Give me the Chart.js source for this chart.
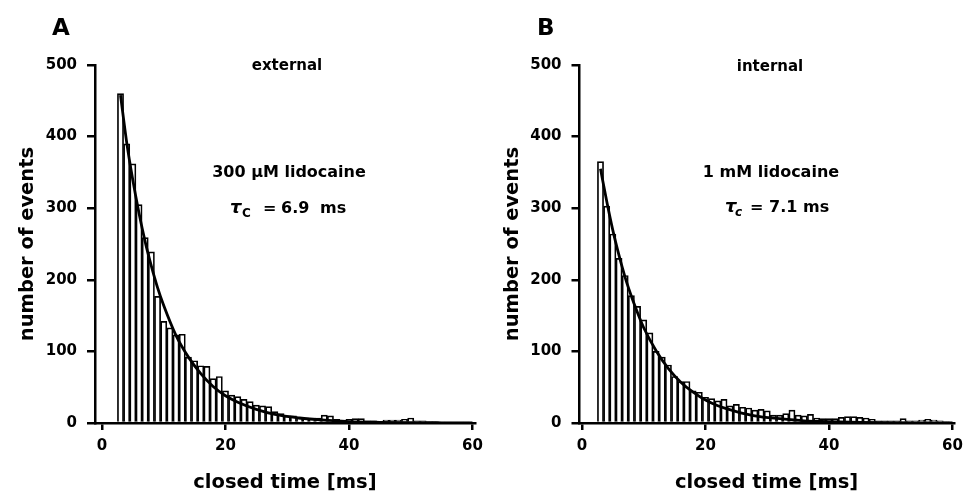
<!DOCTYPE html>
<html>
<head>
<meta charset="utf-8">
<script src="https://cdn.jsdelivr.net/npm/chart.js@4.4.1/dist/chart.umd.min.js"></script>
<style>
  body { margin: 0; background: #fff; }
  #wrap { position: relative; width: 970px; height: 497px; }
  canvas { position: absolute; top: 0; }
</style>
</head>
<body>
<div id="wrap">
  <canvas id="chartA" width="490" height="497" style="left:0"></canvas>
  <canvas id="chartB" width="485" height="497" style="left:485px"></canvas>
</div>
<script>
// ---------------------------------------------------------------------------
// histogram bins (centre of each 1 ms bin)
const binTimes = [3, 4, 5, 6, 7, 8, 9, 10, 11, 12, 13, 14, 15, 16, 17, 18, 19, 20,
  21, 22, 23, 24, 25, 26, 27, 28, 29, 30, 31, 32, 33, 34, 35, 36, 37, 38, 39, 40,
  41, 42, 43, 44, 45, 46, 47, 48, 49, 50, 51, 52, 53, 54, 55, 56, 57, 58, 59];

// A: external, 300 uM lidocaine
const eventsExternal = [460, 390, 362, 305, 259, 239, 177, 142, 133, 123, 124, 92, 87, 80, 79, 62, 65, 45,
  39, 37, 33, 30, 25, 24, 23, 16, 13, 10, 10, 7, 7, 6, 7, 11, 10, 5, 4, 5,
  6, 6, 3, 3, 2, 4, 4, 4, 5, 7, 3, 3, 2, 2, 1, 1, 1, 1, 1];

// B: internal, 1 mM lidocaine
const eventsInternal = [365, 303, 264, 230, 206, 178, 163, 144, 126, 100, 92, 81, 65, 58, 58, 45, 43, 36,
  34, 31, 33, 24, 26, 22, 21, 18, 19, 17, 11, 11, 13, 18, 11, 10, 12, 7, 6, 6,
  6, 8, 9, 9, 8, 7, 5, 3, 3, 3, 3, 6, 3, 3, 4, 5, 4, 3, 2];

// fitted curves
const fitTimes = [3, 4, 5, 6, 7, 8, 9, 10, 12, 14, 16, 18, 20, 22, 25, 28, 32, 36, 40, 45, 50, 55, 60];
const fitExternal = [458, 392, 339, 293, 253, 219, 189, 164, 122, 92, 69, 51, 38, 29, 19, 12, 7, 4, 2, 1, 0.5, 0.3, 0.2];
const fitInternal = [355, 310, 269, 234, 203, 177, 154, 133, 101, 76, 57, 43, 32, 24, 16, 10, 6, 3, 2, 1, 0.5, 0.3, 0.2];

const xTickValues = [0, 20, 40, 60];
const FONT = "'DejaVu Sans'";
// ---------------------------------------------------------------------------

function drawNotes(chart, notes) {
  const ctx = chart.ctx;
  ctx.save();
  ctx.fillStyle = "#000";
  ctx.textBaseline = "alphabetic";
  notes.forEach((n) => {
    ctx.font = n.font;
    ctx.textAlign = n.align || "left";
    ctx.fillText(n.text, n.x, n.y);
  });
  ctx.restore();
}

function makePanel(canvasId, events, fit, opt) {
  return new Chart(document.getElementById(canvasId), {
    type: "bar",
    data: {
      datasets: [
        {
          type: "line",
          data: fitTimes.map((t, i) => ({ x: t, y: fit[i] })),
          borderColor: "#000",
          borderWidth: 2.8,
          pointRadius: 0,
          cubicInterpolationMode: "monotone",
          fill: false,
        },
        {
          type: "bar",
          data: binTimes.map((t, i) => ({ x: t, y: events[i] })),
          backgroundColor: "#fff",
          borderColor: "#000",
          borderWidth: 1.7,
          barPercentage: 1,
          categoryPercentage: 1,
        },
      ],
    },
    options: {
      responsive: false,
      animation: false,
      devicePixelRatio: 1,
      layout: { padding: { top: 65, right: opt.padRight, left: 0, bottom: 0 } },
      plugins: { legend: { display: false }, tooltip: { enabled: false } },
      scales: {
        x: {
          type: "linear",
          min: opt.xMin,
          max: opt.xMax,
          offset: false,
          afterBuildTicks: (axis) => {
            axis.ticks = xTickValues.map((v) => ({ value: v }));
          },
          afterFit: (axis) => {
            axis.height = 74;
          },
          grid: { offset: false, drawOnChartArea: false, color: "#000", lineWidth: 2.5, tickLength: 7 },
          border: { color: "#000", width: 2.5 },
          ticks: { color: "#000", font: { family: FONT, size: 15, weight: "bold" }, padding: 7, maxRotation: 0, autoSkip: false },
          title: {
            display: true,
            text: "closed time [ms]",
            color: "#000",
            font: { family: FONT, size: 19.5, weight: "bold" },
            padding: { top: 0, bottom: 2 },
          },
        },
        y: {
          min: 0,
          max: 500,
          afterFit: (axis) => {
            axis.width = opt.yWidth;
          },
          grid: { drawOnChartArea: false, color: "#000", lineWidth: 2.5, tickLength: 8 },
          border: { color: "#000", width: 2.5 },
          ticks: { stepSize: 100, color: "#000", font: { family: FONT, size: 15, weight: "bold" }, padding: 10 },
          title: {
            display: true,
            text: "number of events",
            color: "#000",
            font: { family: FONT, size: 19.5, weight: "bold" },
            padding: { top: 16, bottom: 0 },
          },
        },
      },
    },
    plugins: [{ id: "notes", afterDraw: (chart) => drawNotes(chart, opt.notes) }],
  });
}

makePanel("chartA", eventsExternal, fitExternal, {
  xMin: -1.13,
  xMax: 60.4,
  yWidth: 95,
  padRight: 14.5,
  notes: [
    { text: "A", x: 52, y: 35, font: `bold 23px ${FONT}` },
    { text: "external", x: 287, y: 70, align: "center", font: `bold 15px ${FONT}` },
    { text: "300 µM lidocaine", x: 289, y: 177, align: "center", font: `bold 16px ${FONT}` },
    { text: "τ", x: 230, y: 213, font: `italic bold 18px ${FONT}` },
    { text: "C", x: 242, y: 217, font: `bold 12px ${FONT}` },
    { text: "=", x: 263, y: 213, font: `bold 16px ${FONT}` },
    { text: "6.9", x: 281, y: 213, font: `bold 16px ${FONT}` },
    { text: "ms", x: 320, y: 213, font: `bold 16px ${FONT}` },
  ],
});

makePanel("chartB", eventsInternal, fitInternal, {
  xMin: -0.4,
  xMax: 60.2,
  yWidth: 94.5,
  padRight: 12,
  notes: [
    { text: "B", x: 52, y: 35, font: `bold 23px ${FONT}` },
    { text: "internal", x: 285, y: 71, align: "center", font: `bold 15px ${FONT}` },
    { text: "1 mM lidocaine", x: 286, y: 177, align: "center", font: `bold 16px ${FONT}` },
    { text: "τ", x: 240, y: 212, font: `italic bold 18px ${FONT}` },
    { text: "c", x: 250, y: 216, font: `italic bold 12px ${FONT}` },
    { text: "=", x: 265, y: 212, font: `bold 16px ${FONT}` },
    { text: "7.1", x: 284, y: 212, font: `bold 16px ${FONT}` },
    { text: "ms", x: 318, y: 212, font: `bold 16px ${FONT}` },
  ],
});
</script>
</body>
</html>
